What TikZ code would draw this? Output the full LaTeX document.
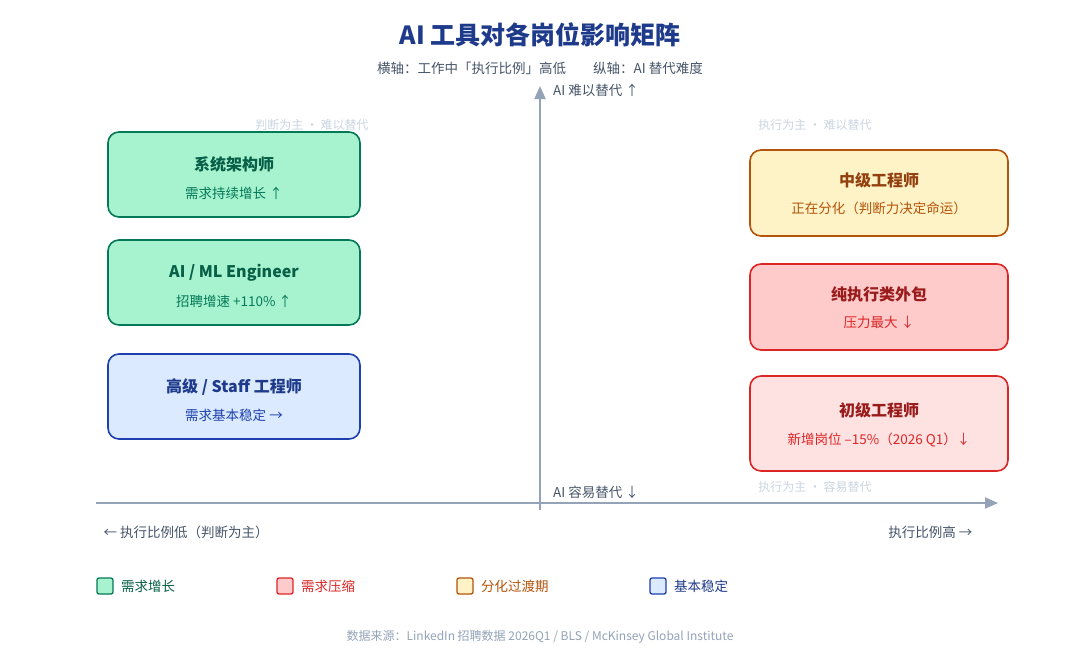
\documentclass[tikz,border=0pt]{standalone}
\usepackage{fontspec}
\setmainfont{Noto Sans CJK SC}
\usetikzlibrary{arrows.meta}
\definecolor{ax}{HTML}{94A3B8}
\definecolor{lt}{HTML}{CBD5E1}
\definecolor{gf}{HTML}{A7F3D0}\definecolor{gd}{HTML}{047857}\definecolor{gt}{HTML}{065F46}
\definecolor{bf}{HTML}{DBEAFE}\definecolor{bd}{HTML}{1E40AF}\definecolor{bt}{HTML}{1E3A8A}
\definecolor{yf}{HTML}{FEF3C7}\definecolor{yd}{HTML}{B45309}\definecolor{yt}{HTML}{92400E}
\definecolor{rf}{HTML}{FECACA}\definecolor{rf2}{HTML}{FEE2E2}\definecolor{rd}{HTML}{DC2626}\definecolor{rt}{HTML}{991B1B}
\definecolor{tx}{HTML}{475569}
\begin{document}
\begin{tikzpicture}[x=1pt,y=-1pt,
 card/.style={rounded corners=11pt,line width=1.6pt},
 ttl/.style={font=\fontsize{16}{18}\selectfont\bfseries},
 sub/.style={font=\fontsize{13.5}{16}\selectfont},
 axl/.style={font=\fontsize{13.5}{16}\selectfont,text=tx},
 corner/.style={font=\fontsize{12}{14}\selectfont,text=lt},
 leg/.style={rounded corners=2pt,line width=1.3pt,minimum size=16pt,inner sep=0pt}]
\useasboundingbox (0,0) rectangle (1080,672);
\fill[white] (0,0) rectangle (1080,672);
\node (title) at (540,35) {\fontsize{25}{28}\selectfont\bfseries\color{bt}AI 工具对各岗位影响矩阵};
\node (subt) at (540,68) [axl] {横轴：工作中「执行比例」高低\qquad 纵轴：AI 替代难度};
\coordinate (vb) at (540,510); \coordinate (vt) at (540,86);
\coordinate (hl) at (96,503); \coordinate (hr) at (998,503);
\draw[ax,line width=2pt,-{Triangle[length=13pt,width=11pt]}] (vb)--(vt);
\draw[ax,line width=2pt,-{Triangle[length=13pt,width=11pt]}] (hl)--(hr);
\node (top) at (596,90) [axl] {AI 难以替代 ↑};
\node (bot) at (596,492) [axl] {AI 容易替代 ↓};
\node (c1) at (312,125) [corner] {判断为主 · 难以替代};
\node (c2) at (815,125) [corner] {执行为主 · 难以替代};
\node (c3) at (815,487) [corner] {执行为主 · 容易替代};
% left
\draw[card,fill=gf,draw=gd] (108,132) rectangle (360,217);
\node (a1) at (234,164) [ttl,text=gt] {系统架构师};
\node (a2) at (234,193) [sub,text=gd] {需求持续增长 ↑};
\draw[card,fill=gf,draw=gd] (108,240) rectangle (360,325);
\node (b1) at (234,273) [ttl,text=gt] {AI / ML Engineer};
\node (b2) at (234,301) [sub,text=gd] {招聘增速 +110\% ↑};
\draw[card,fill=bf,draw=bd] (108,354) rectangle (360,439);
\node (d1) at (234,387) [ttl,text=bt] {高级 / Staff 工程师};
\node (d2) at (234,415) [sub,text=bd] {需求基本稳定 →};
% right
\draw[card,fill=yf,draw=yd] (750,150) rectangle (1008,236);
\node (e1) at (879,180) [ttl,text=yt] {中级工程师};
\node (e2) at (879,208) [sub,text=yd] {正在分化（判断力决定命运）};
\draw[card,fill=rf,draw=rd] (750,264) rectangle (1008,350);
\node (f1) at (879,294) [ttl,text=rt] {纯执行类外包};
\node (f2) at (879,322) [sub,text=rd] {压力最大 ↓};
\draw[card,fill=rf2,draw=rd] (750,376) rectangle (1008,471);
\node (g1) at (879,410) [ttl,text=rt] {初级工程师};
\node (g2) at (879,440) [sub,text=rd] {新增岗位 –15\%（2026 Q1）↓};
\node (xl) at (100,532) [axl,anchor=west] {← 执行比例低（判断为主）};
\node (xr) at (976,532) [axl,anchor=east] {执行比例高 →};
% legend
\node (l1) at (105,586) [leg,fill=gf,draw=gd] {};
\node at (l1.east) [axl,anchor=west,text=gt,xshift=4pt] {需求增长};
\node (l2) at (285,586) [leg,fill=rf,draw=rd] {};
\node at (l2.east) [axl,anchor=west,text=rd,xshift=4pt] {需求压缩};
\node (l3) at (465,586) [leg,fill=yf,draw=yd] {};
\node at (l3.east) [axl,anchor=west,text=yd,xshift=4pt] {分化过渡期};
\node (l4) at (658,586) [leg,fill=bf,draw=bd] {};
\node at (l4.east) [axl,anchor=west,text=bt,xshift=4pt] {基本稳定};
\node (src) at (540,637) [font=\fontsize{12}{14}\selectfont,text=ax] {数据来源：LinkedIn 招聘数据 2026Q1 / BLS / McKinsey Global Institute};
\end{tikzpicture}
\end{document}
